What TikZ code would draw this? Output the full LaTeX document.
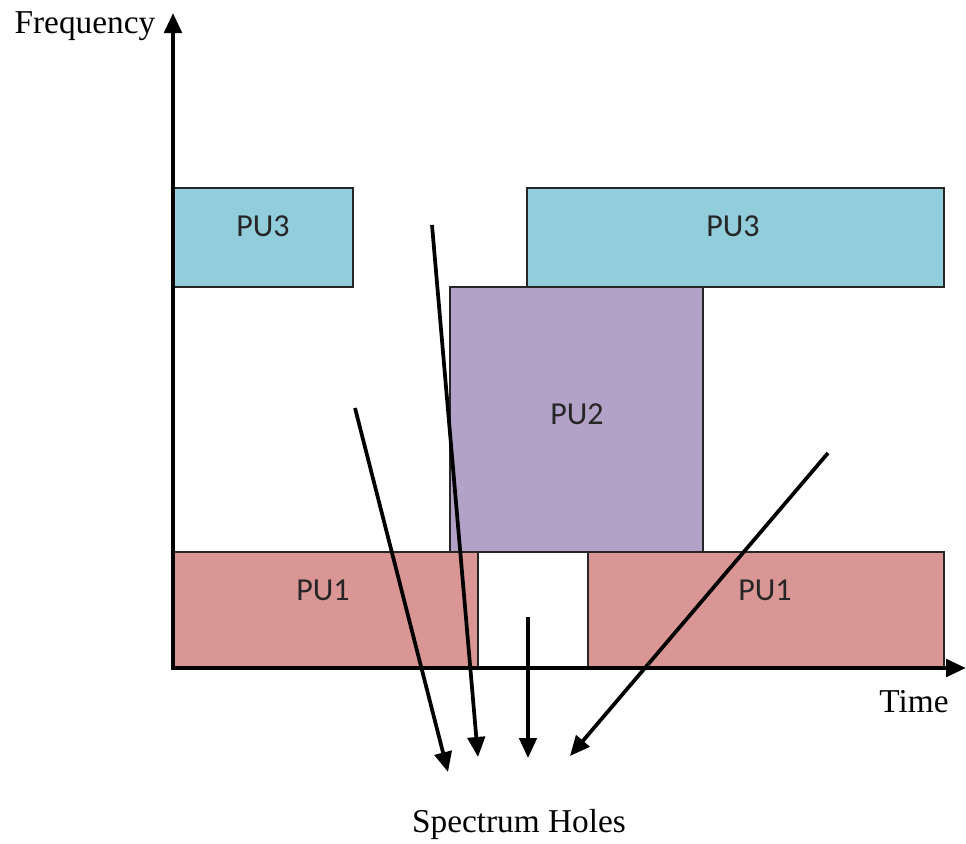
\documentclass[tikz,border=0pt]{standalone}
\usepackage{fontspec}
\setmainfont{Liberation Serif}
\newfontfamily\pufont{Carlito}
\usetikzlibrary{arrows.meta}
\definecolor{puthree}{HTML}{92CDDC}
\definecolor{putwo}{HTML}{B2A2C7}
\definecolor{puone}{HTML}{D99694}
\begin{document}
\begin{tikzpicture}[x=0.75pt,y=-0.75pt,
  box/.style={draw=black!85, line width=1pt},
  pulabel/.style={font=\pufont\fontsize{24}{28}\selectfont, text=black!85},
  axislabel/.style={font=\fontsize{25}{29}\selectfont},
  axis/.style={line width=3.2pt, -{Triangle[length=15pt,width=13pt]}},
  hole/.style={line width=2.8pt, -{Triangle[length=15pt,width=13pt]}}]
\path[use as bounding box] (0,0) rectangle (966,843);

% boxes
\draw[box, fill=puthree] (173,188) rectangle (353,287);
\draw[box, fill=puthree] (527,188) rectangle (944,287);
\draw[box, fill=putwo] (450,287) rectangle (703,552);
\draw[box, fill=puone] (173,552) rectangle (478,668);
\draw[box, fill=white] (478,552) rectangle (588,668);
\draw[box, fill=puone] (588,552) rectangle (944,668);

\node[pulabel] (l3a) at (263,226) {PU3};
\node[pulabel] (l3b) at (733,226) {PU3};
\node[pulabel] (l2) at (577,414) {PU2};
\node[pulabel] (l1a) at (323,590) {PU1};
\node[pulabel] (l1b) at (765,590) {PU1};

% axes
\coordinate (o) at (173,668);
\coordinate (ytip) at (173,13);
\coordinate (xtip) at (966,668);
\draw[axis] (o) -- (ytip);
\draw[axis] ([xshift=-1.2pt]o) -- (xtip);

\node[axislabel, anchor=base east] (freq) at (160,33) {Frequency};
\node[axislabel, anchor=base] (time) at (914,712) {Time};
\node[axislabel, anchor=base] (holes) at (519,832) {Spectrum Holes};

% spectrum-hole arrows
\coordinate (s1) at (355,408);
\coordinate (e1) at (448,772);
\coordinate (s2) at (432,225);
\coordinate (e2) at (478,757);
\coordinate (s3) at (528,617);
\coordinate (e3) at (528,758);
\coordinate (s4) at (828,453);
\coordinate (e4) at (570,756);
\draw[hole] (s1) -- (e1);
\draw[hole] (s2) -- (e2);
\draw[hole] (s3) -- (e3);
\draw[hole] (s4) -- (e4);
\end{tikzpicture}
\end{document}
